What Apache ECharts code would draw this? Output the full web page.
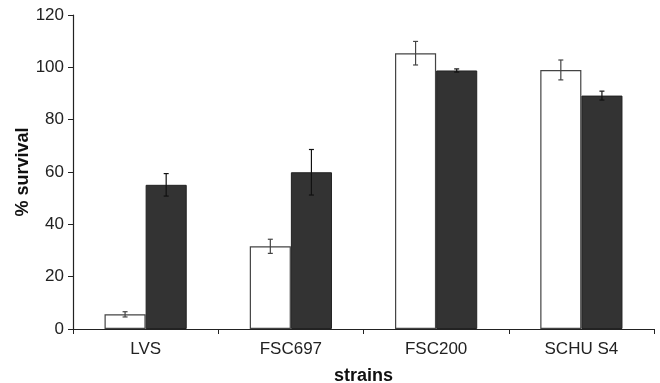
<!DOCTYPE html>
<html>
<head>
<meta charset="utf-8">
<script src="https://cdn.jsdelivr.net/npm/echarts@6/dist/echarts.min.js"></script>
<style>
  html,body{margin:0;padding:0;background:#fff;}
  #chart{width:660px;height:383px;}
</style>
</head>
<body>
<div id="chart"></div>
<script>
// data
const strains = ['LVS', 'FSC697', 'FSC200', 'SCHU S4'];
const whiteVals = [5.6, 31.6, 105.4, 99.0];
const whiteErr = [1.0, 2.7, 4.5, 3.8];
const darkVals = [55.1, 59.9, 98.8, 89.2];
const darkErr = [4.3, 8.7, 0.6, 1.7];
const yTicks = [0, 20, 40, 60, 80, 100, 120];

const BAR_PCT = 0.283;

function errData(vals, errs){
    return vals.map((v,i)=>[i, v, v-errs[i], v+errs[i]]);
}

function errRender(side, color){
    return function(params, api){
        const idx = api.value(0);
        const band = api.size([1,0])[0];
        const off = side * band * BAR_PCT / 2;
        const lo = api.coord([idx, api.value(2)]);
        const hi = api.coord([idx, api.value(3)]);
        const x = lo[0] + off;
        const cap = 2.5;
        const st = {stroke: color, lineWidth: 1.2};
        return {
            type: 'group',
            children: [
                {type:'line', shape:{x1:x, y1:lo[1], x2:x, y2:hi[1]}, style:st},
                {type:'line', shape:{x1:x-cap, y1:lo[1], x2:x+cap, y2:lo[1]}, style:st},
                {type:'line', shape:{x1:x-cap, y1:hi[1], x2:x+cap, y2:hi[1]}, style:st}
            ]
        };
    };
}

const chart = echarts.init(document.getElementById('chart'));
const font = 'Liberation Sans, Arial, sans-serif';

chart.setOption({
    backgroundColor: '#fff',
    animation: false,
    grid: {left: 73, right: 6, top: 15, bottom: 54, containLabel: false, outerBoundsMode: 'none'},
    xAxis: {
        type: 'category',
        data: strains,
        name: 'strains',
        nameLocation: 'middle',
        nameGap: 38,
        nameMoveOverlap: false,
        nameTextStyle: {fontFamily: font, fontSize: 18, fontWeight: 'bold', color: '#111'},
        axisLine: {lineStyle: {color: '#222', width: 1.2}},
        axisTick: {show: true, alignWithLabel: false, length: 5, lineStyle: {color: '#222'}},
        axisLabel: {fontFamily: font, fontSize: 17, color: '#222', margin: 12}
    },
    yAxis: {
        type: 'value',
        min: 0,
        max: 120,
        interval: 20,
        name: '% survival',
        nameLocation: 'middle',
        nameGap: 41,
        nameMoveOverlap: false,
        nameRotate: 90,
        nameTextStyle: {fontFamily: font, fontSize: 18, fontWeight: 'bold', color: '#111'},
        axisLine: {show: true, lineStyle: {color: '#222', width: 1.2}},
        axisTick: {show: true, length: 5, lineStyle: {color: '#222'}},
        axisLabel: {fontFamily: font, fontSize: 17, color: '#222', margin: 9,
            formatter: v => yTicks.includes(v) ? String(v) : ''},
        splitLine: {show: false}
    },
    series: [
        {
            type: 'bar',
            data: whiteVals,
            barWidth: (BAR_PCT*100)+'%',
            barGap: '0%',
            itemStyle: {color: '#fff', borderColor: '#444', borderWidth: 1.2}
        },
        {
            type: 'bar',
            data: darkVals,
            barWidth: (BAR_PCT*100)+'%',
            barGap: '0%',
            itemStyle: {color: '#333', borderColor: '#222', borderWidth: 1}
        },
        {
            type: 'custom',
            renderItem: errRender(-1, '#444'),
            data: errData(whiteVals, whiteErr),
            encode: {x: 0, y: [2,3]},
            z: 10
        },
        {
            type: 'custom',
            renderItem: errRender(1, '#111'),
            data: errData(darkVals, darkErr),
            encode: {x: 0, y: [2,3]},
            z: 10
        }
    ]
});
</script>
</body>
</html>
